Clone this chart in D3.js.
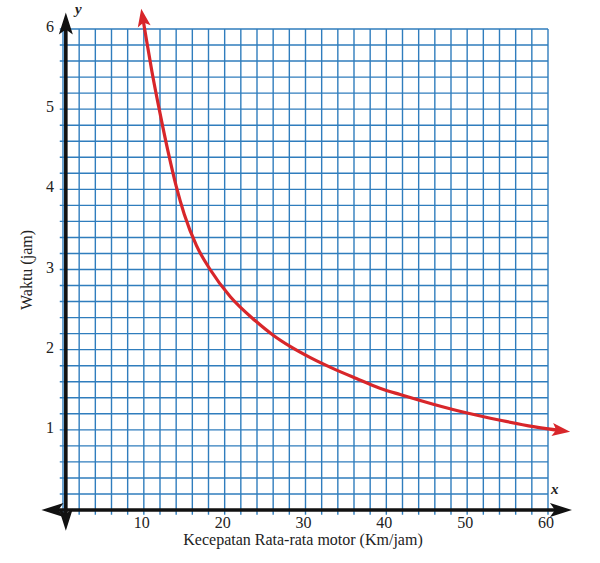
<!DOCTYPE html>
<html>
<head>
<meta charset="utf-8">
<script src="https://cdn.jsdelivr.net/npm/d3@7"></script>
<style>
  html, body { margin: 0; padding: 0; background: #fff; }
  svg { display: block; }
  text { font-family: "Liberation Serif", "DejaVu Serif", serif; fill: #222; }
</style>
</head>
<body>
<svg id="chart" width="600" height="563"></svg>
<script>
// kecepatan (km/jam)
const speeds = [9.8, 10.1, 11.0, 12.0, 13.0, 14.0, 15.0, 16.5, 18.2, 20.7, 23.8, 26.0, 28.1,
    30.6, 33.5, 36.3, 39.2, 41.7, 45.8, 50.0, 54.1, 58.2, 62.0];
// waktu (jam) at those speeds
const hours = [6.18, 6.0, 5.47, 4.95, 4.47, 4.04, 3.69, 3.3, 3.0, 2.66, 2.36, 2.18, 2.04,
    1.9, 1.76, 1.64, 1.52, 1.44, 1.32, 1.21, 1.12, 1.04, 0.985];

const xTickLabels = [10, 20, 30, 40, 50, 60];
const yTickLabels = [1, 2, 3, 4, 5, 6];

const xTitle = 'Kecepatan Rata-rata motor (Km/jam)';
const yTitle = 'Waktu (jam)';

const gridColor = '#2f7dbd';
const curveColor = '#d8262a';

const svg = d3.select('#chart');

const x = d3.scaleLinear()
    .domain([0, 60])
    .range([63, 548]);

const y = d3.scaleLinear()
    .domain([0, 6])
    .range([510, 29]);

// MARKERS

const defs = svg.append('defs');

defs.append('marker')
    .attr('id', 'axisArrow')
    .attr('markerUnits', 'userSpaceOnUse')
    .attr('viewBox', '-16 -8 24 16')
    .attr('markerWidth', 24)
    .attr('markerHeight', 16)
    .attr('refX', 0)
    .attr('refY', 0)
    .attr('orient', 'auto-start-reverse')
    .append('path')
    .attr('d', 'M7,0 L-15,-7 L-10,0 L-15,7 Z')
    .attr('fill', '#111');

defs.append('marker')
    .attr('id', 'curveArrow')
    .attr('markerUnits', 'userSpaceOnUse')
    .attr('viewBox', '-14 -8 22 16')
    .attr('markerWidth', 22)
    .attr('markerHeight', 16)
    .attr('refX', 0)
    .attr('refY', 0)
    .attr('orient', 'auto-start-reverse')
    .append('path')
    .attr('d', 'M6,0 L-12,-6.5 L-8,0 L-12,6.5 Z')
    .attr('fill', curveColor);

// GRID

const grid = svg.append('g').attr('class', 'grid');

grid.selectAll('.vLine')
    .data(x.ticks(30))
    .enter()
    .append('line')
    .attr('class', 'vLine')
    .attr('x1', d => x(d))
    .attr('x2', d => x(d))
    .attr('y1', y(6))
    .attr('y2', y(-0.06))
    .attr('stroke', gridColor)
    .attr('stroke-width', 1.4);

grid.selectAll('.hLine')
    .data(y.ticks(30))
    .enter()
    .append('line')
    .attr('class', 'hLine')
    .attr('x1', x(-0.4))
    .attr('x2', x(60))
    .attr('y1', d => y(d))
    .attr('y2', d => y(d))
    .attr('stroke', gridColor)
    .attr('stroke-width', 1.4);

// AXES

svg.append('line')
    .attr('class', 'xAxis')
    .attr('x1', x(-1.8))
    .attr('x2', x(62.1))
    .attr('y1', y(0))
    .attr('y2', y(0))
    .attr('stroke', '#111')
    .attr('stroke-width', 3.6)
    .attr('marker-start', 'url(#axisArrow)')
    .attr('marker-end', 'url(#axisArrow)');

svg.append('line')
    .attr('class', 'yAxis')
    .attr('x1', x(0.35))
    .attr('x2', x(0.35))
    .attr('y1', y(-0.17))
    .attr('y2', y(6.12))
    .attr('stroke', '#111')
    .attr('stroke-width', 3.6)
    .attr('marker-start', 'url(#axisArrow)')
    .attr('marker-end', 'url(#axisArrow)');

// CURVE

const points = speeds.map((s, i) => [s, hours[i]]);

const line = d3.line()
    .x(d => x(d[0]))
    .y(d => y(d[1]))
    .curve(d3.curveMonotoneX);

svg.append('path')
    .datum(points)
    .attr('d', line)
    .attr('fill', 'none')
    .attr('stroke', curveColor)
    .attr('stroke-width', 3.2)
    .attr('marker-start', 'url(#curveArrow)')
    .attr('marker-end', 'url(#curveArrow)');

// TEXT

svg.selectAll('.xTick')
    .data(xTickLabels)
    .enter()
    .append('text')
    .attr('class', 'xTick')
    .attr('x', d => x(d) - 2)
    .attr('y', 527.5)
    .attr('text-anchor', 'middle')
    .attr('font-size', 16)
    .text(d => d);

svg.selectAll('.yTick')
    .data(yTickLabels)
    .enter()
    .append('text')
    .attr('class', 'yTick')
    .attr('x', 54)
    .attr('y', d => y(d) + 3)
    .attr('text-anchor', 'end')
    .attr('font-size', 16)
    .text(d => d);

svg.append('text')
    .attr('x', 303)
    .attr('y', 545)
    .attr('text-anchor', 'middle')
    .attr('font-size', 16)
    .text(xTitle);

svg.append('text')
    .attr('transform', `translate(32,${270}) rotate(-90)`)
    .attr('text-anchor', 'middle')
    .attr('font-size', 16)
    .text(yTitle);

svg.append('text')
    .attr('x', 75)
    .attr('y', 14)
    .attr('font-size', 15)
    .attr('font-style', 'italic')
    .attr('font-weight', 'bold')
    .text('y');

svg.append('text')
    .attr('x', 551)
    .attr('y', 494)
    .attr('font-size', 15)
    .attr('font-style', 'italic')
    .attr('font-weight', 'bold')
    .text('x');
</script>
</body>
</html>
